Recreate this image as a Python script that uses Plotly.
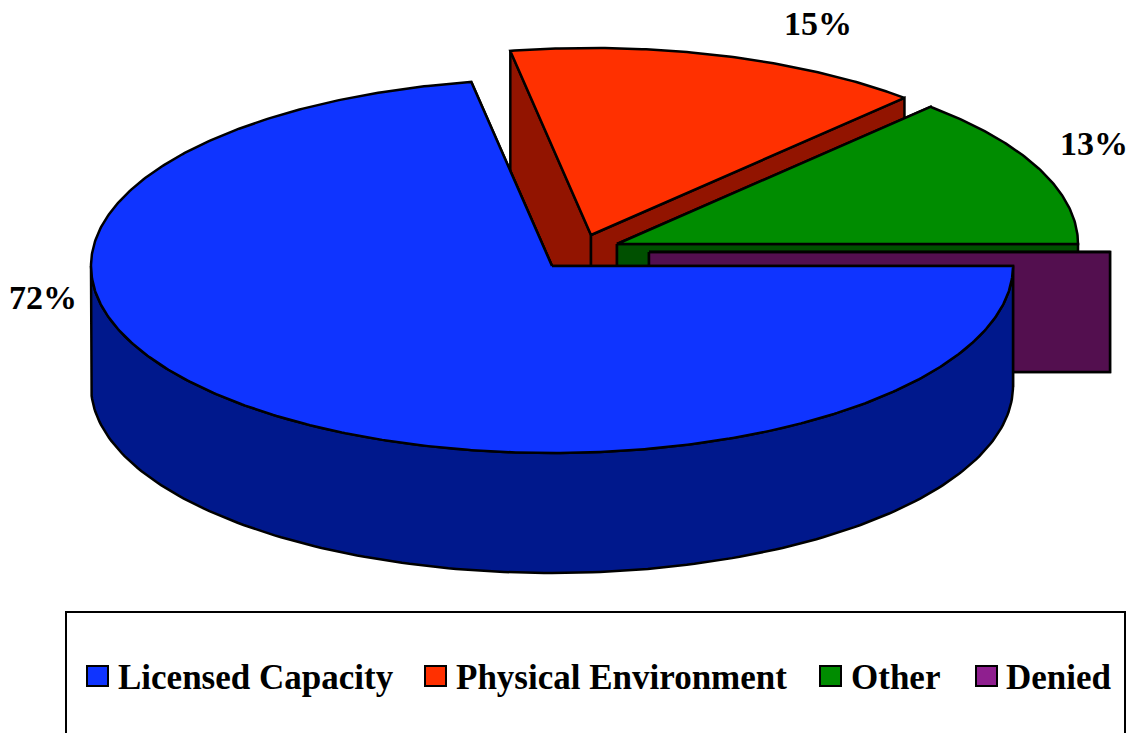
import numpy as np
import plotly.graph_objects as go

# ---- data ----
categories = ["Licensed Capacity", "Physical Environment", "Other", "Denied"]
shares = [72.2, 14.7, 13.1, 0.0]
show_label = [True, True, True, False]

# ---- style / layout ----
top_colors = ["#0F34FF", "#FF3000", "#008C00", "#530F4F"]
wall_colors = ["#00188C", "#921400", "#005000", "#530F4F"]
legend_colors = ["#0F34FF", "#FF3000", "#008C00", "#8F1F8F"]
apex = [(552, 266), (591, 235), (617, 244), (649, 252)]
RX, RY, DEPTH = 461, 187, 120
FIRST_ANGLE = 90
paint_order = [1, 2, 3, 0]
label_pos = [(43, 297), (818, 23), (1094, 143), None]
legend_swatch_x = [87, 425, 820, 976]
legend_text_x = [118, 456, 851, 1006]
FONT = "Liberation Serif"

fig = go.Figure()


def ellipse(cx, cy, a):
    r = np.radians(a)
    return cx + RX * np.sin(r), cy - RY * np.cos(r)


def poly(xs, ys, color, name):
    fig.add_trace(go.Scatter(
        x=list(xs) + [xs[0]], y=list(ys) + [ys[0]], mode="lines", fill="toself",
        fillcolor=color, line=dict(color="black", width=2.5),
        name=name, showlegend=False, hoverinfo="name",
    ))


edges = FIRST_ANGLE + np.concatenate([[0], np.cumsum(shares)]) * 3.6
for i in paint_order:
    a0, a1 = edges[i], edges[i + 1]
    cx, cy = apex[i]
    name = categories[i]
    # cut faces
    for a in (a0, a1):
        ex, ey = ellipse(cx, cy, a)
        poly([cx, ex, ex, cx], [cy, ey, ey + DEPTH, cy + DEPTH], wall_colors[i], name)
    # outer rim, only the part that faces the viewer
    lo, hi = max(a0, 90), min(a1, 270)
    if hi > lo:
        t = np.linspace(lo, hi, 181)
        ex, ey = ellipse(cx, cy, t)
        poly(np.r_[ex, ex[::-1]], np.r_[ey, ey[::-1] + DEPTH], wall_colors[i], name)
    # top face
    t = np.linspace(a0, a1, max(2, int(a1 - a0) * 2))
    ex, ey = ellipse(cx, cy, t)
    poly(np.r_[cx, ex], np.r_[cy, ey], top_colors[i], name)

annotations = []
for i, cat in enumerate(categories):
    if show_label[i]:
        annotations.append(dict(
            x=label_pos[i][0], y=label_pos[i][1], xref="x", yref="y",
            text=f"<b>{round(shares[i])}%</b>", showarrow=False,
            font=dict(family=FONT, size=34, color="black"),
            xanchor="center", yanchor="middle",
        ))
    annotations.append(dict(
        x=legend_text_x[i], y=677, xref="x", yref="y", text=f"<b>{cat}</b>",
        showarrow=False, font=dict(family=FONT, size=35, color="black"),
        xanchor="left", yanchor="middle", xshift=-2,
    ))

shapes = [dict(type="rect", xref="x", yref="y", x0=66, x1=1125, y0=612, y1=760,
               line=dict(color="black", width=2), fillcolor="white", layer="below")]
for i in range(len(categories)):
    shapes.append(dict(type="rect", xref="x", yref="y",
                       x0=legend_swatch_x[i], x1=legend_swatch_x[i] + 21, y0=666, y1=686,
                       line=dict(color="black", width=2), fillcolor=legend_colors[i]))

fig.update_layout(
    width=1133, height=733, margin=dict(l=0, r=0, t=0, b=0),
    paper_bgcolor="white", plot_bgcolor="white", showlegend=False,
    xaxis=dict(range=[0, 1133], visible=False, fixedrange=True),
    yaxis=dict(range=[733, 0], visible=False, fixedrange=True),
    annotations=annotations, shapes=shapes,
)
fig.write_html("out.html", config={"displayModeBar": False},
               post_script="document.body.style.margin='0';document.body.style.overflow='hidden';")
